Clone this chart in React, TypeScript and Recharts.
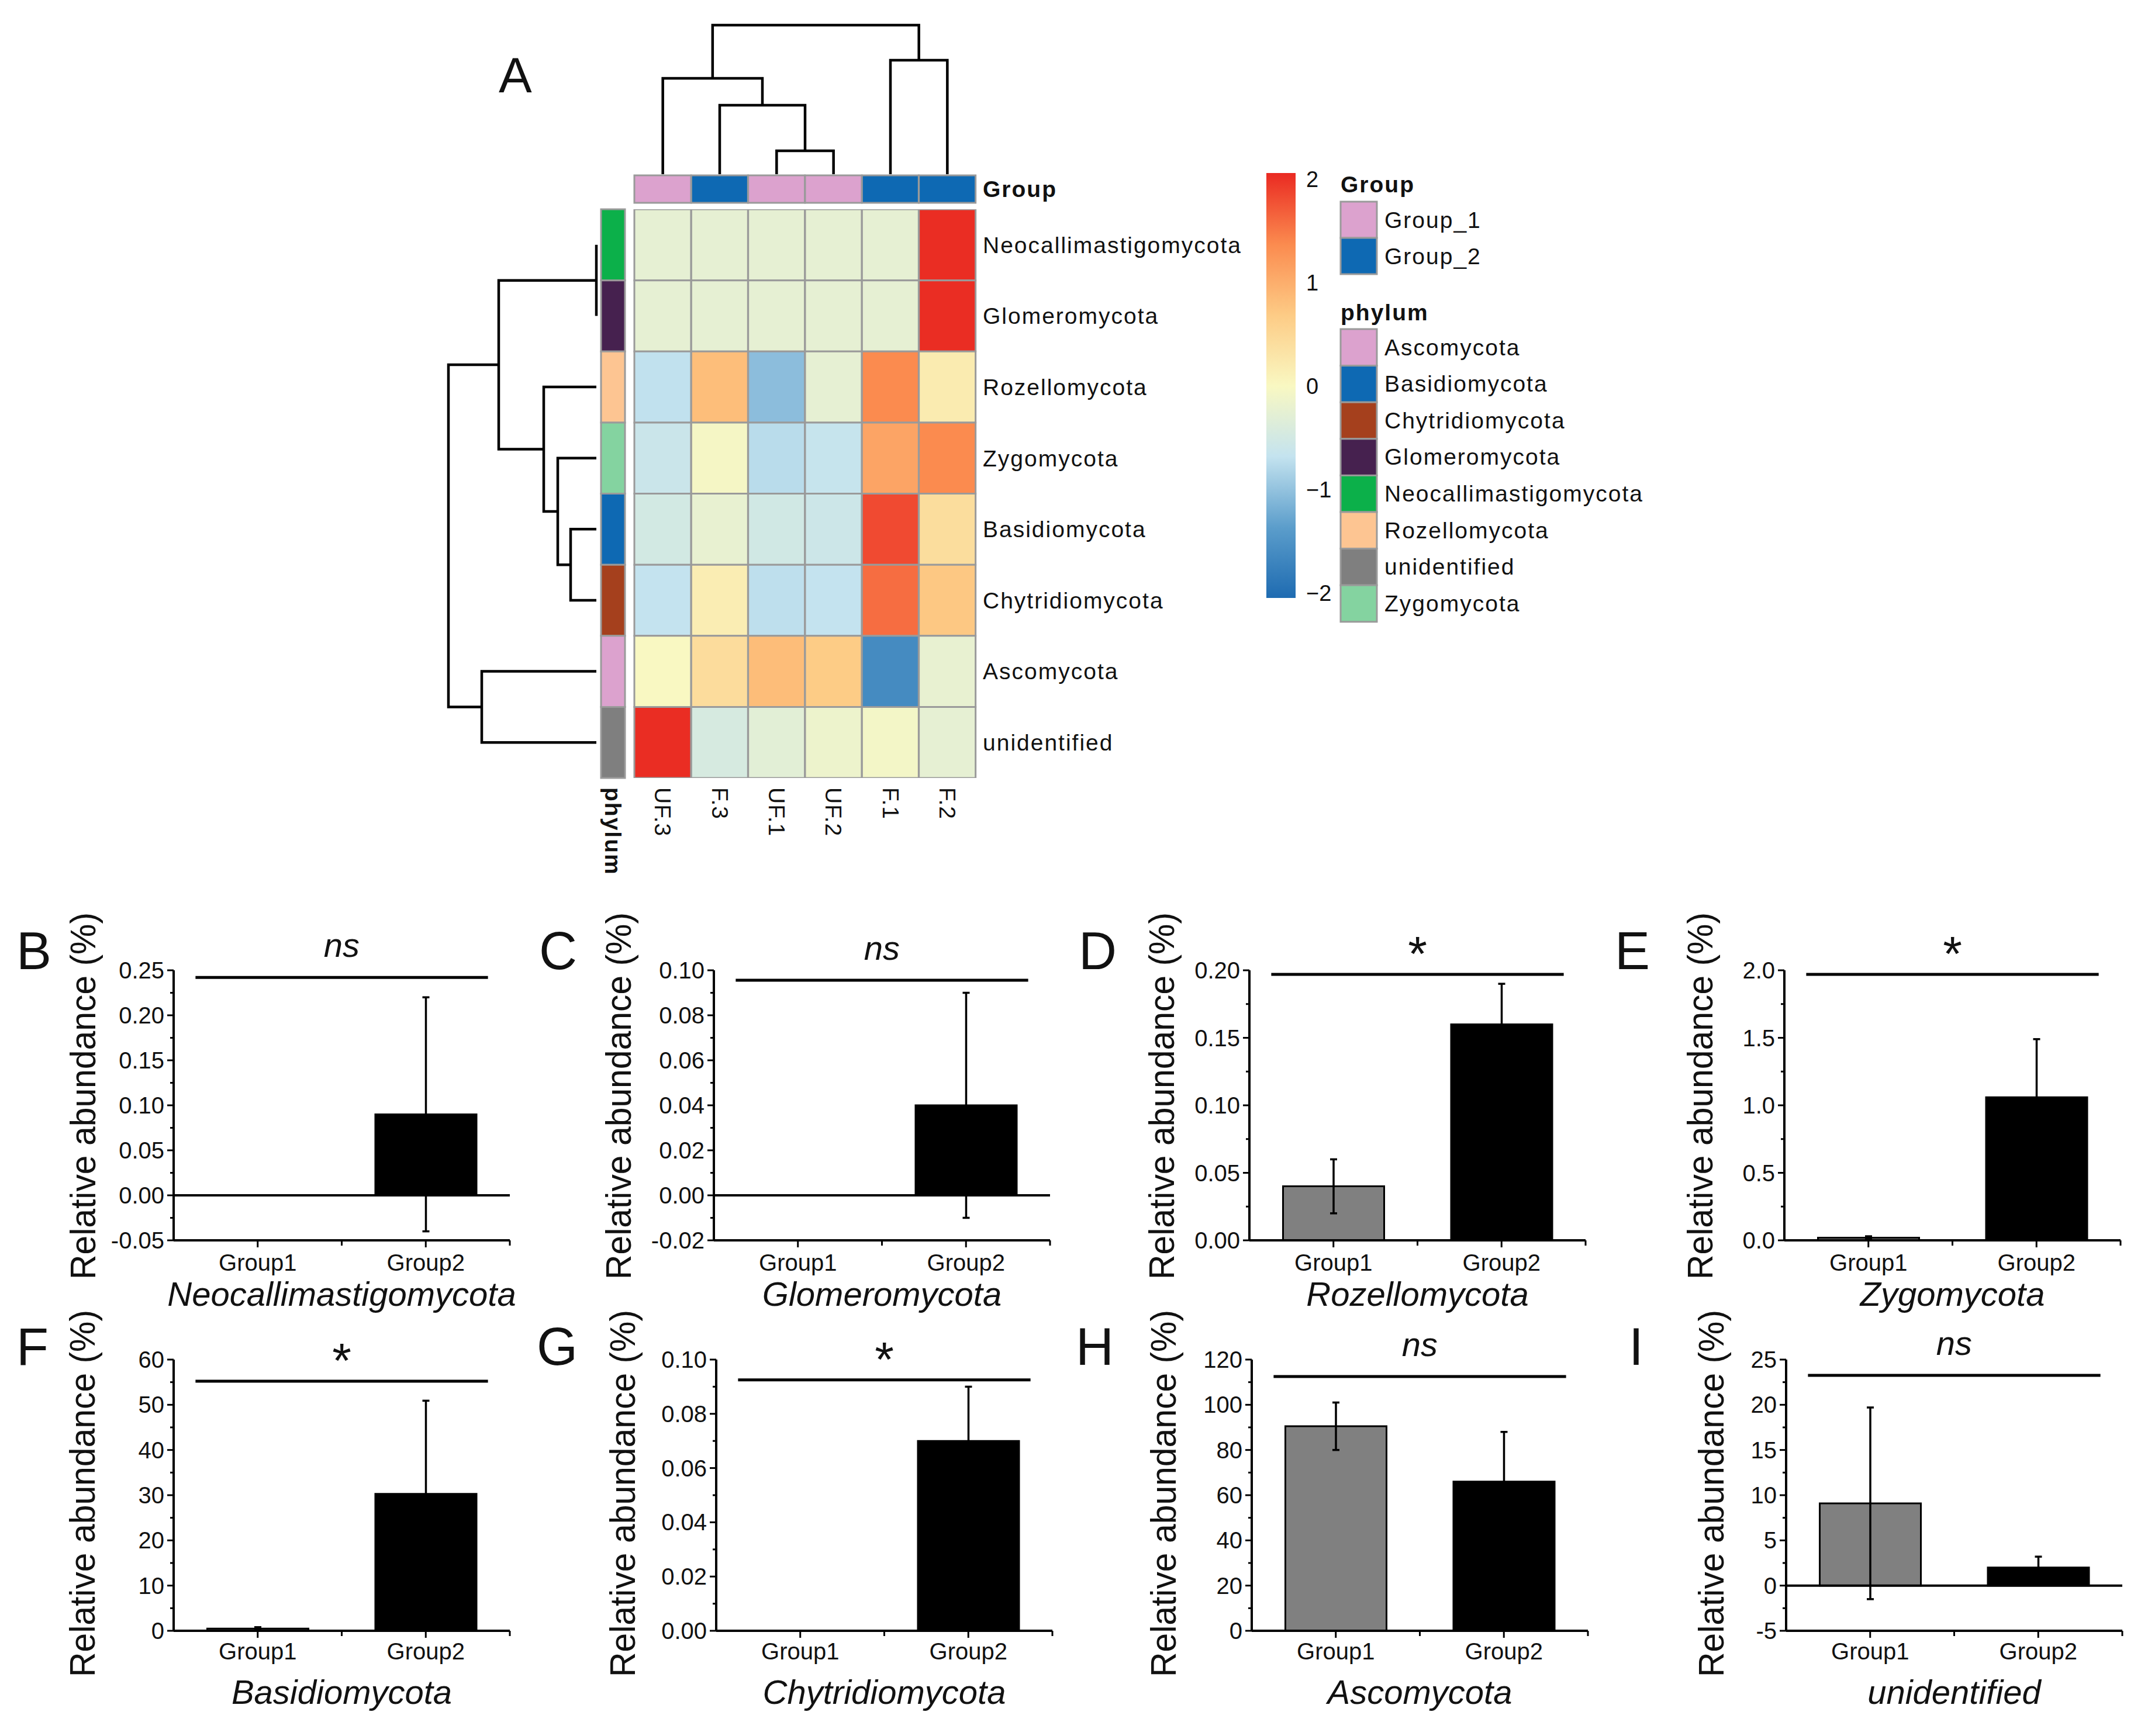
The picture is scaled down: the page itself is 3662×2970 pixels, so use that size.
import React from 'react';
import { BarChart, Bar, Cell, XAxis, YAxis, ErrorBar, ReferenceLine, ScatterChart, Scatter } from 'recharts';

const FONT = '"Liberation Sans", Arial, Helvetica, sans-serif';
const INK = '#000000';
const TXT = '#111111';
const GRID = '#9A9A9A';

// ---------------- Panel A : heatmap data ----------------
const samples = ['UF.3', 'F.3', 'UF.1', 'UF.2', 'F.1', 'F.2'];
const sampleGroups = ['Group_1', 'Group_2', 'Group_1', 'Group_1', 'Group_2', 'Group_2'];
const heatRows = ['Neocallimastigomycota', 'Glomeromycota', 'Rozellomycota', 'Zygomycota', 'Basidiomycota', 'Chytridiomycota', 'Ascomycota', 'unidentified'];
const zNeocallimastigomycota = [-0.25, -0.25, -0.25, -0.25, -0.25, 2.04];
const zGlomeromycota = [-0.25, -0.25, -0.25, -0.25, -0.25, 2.04];
const zRozellomycota = [-0.7, 0.83, -1.05, -0.25, 1.37, 0.2];
const zZygomycota = [-0.6, -0.05, -0.75, -0.65, 1.1, 1.37];
const zBasidiomycota = [-0.5, -0.22, -0.52, -0.58, 1.83, 0.42];
const zChytridiomycota = [-0.68, 0.17, -0.72, -0.68, 1.58, 0.72];
const zAscomycota = [0.0, 0.43, 0.84, 0.68, -1.62, -0.22];
const zUnidentified = [2.04, -0.45, -0.3, -0.15, -0.08, -0.25];
const heatZ = [zNeocallimastigomycota, zGlomeromycota, zRozellomycota, zZygomycota, zBasidiomycota, zChytridiomycota, zAscomycota, zUnidentified];

// hclust-style merges: negative = leaf (1-based display order), positive = earlier merge; third = height
const colMerges = [[-3, -4, 1.6], [-2, 1, 4.72], [-1, 2, 6.56], [-5, -6, 7.8], [3, 4, 10.2]];
const rowMerges = [[-1, -2, 0], [-5, -6, 1.76], [-4, 2, 2.64], [-3, 3, 3.6], [1, 4, 6.68], [-7, -8, 7.84], [5, 6, 10.12]];

const groupLegend = ['Group_1', 'Group_2'];
const phylumLegend = ['Ascomycota', 'Basidiomycota', 'Chytridiomycota', 'Glomeromycota', 'Neocallimastigomycota', 'Rozellomycota', 'unidentified', 'Zygomycota'];
const groupColor: Record<string, string> = { Group_1: '#DCA2CE', Group_2: '#0E69B3' };
const phylumColor: Record<string, string> = {
  Ascomycota: '#DCA2CE', Basidiomycota: '#0E69B3', Chytridiomycota: '#A5401D', Glomeromycota: '#46214F',
  Neocallimastigomycota: '#0CB04A', Rozellomycota: '#FDC592', unidentified: '#7F7F7F', Zygomycota: '#84D3A0',
};
const scaleTicks = [-2, -1, 0, 1, 2];
const scaleMin = -2.05;
const scaleMax = 2.06;
const scaleStops = [-2.05, -1.37, -0.68, 0, 0.68, 1.37, 2.06];
const scaleColors = ['#1E6BB1', '#5B9DCB', '#C4E3EF', '#F9F8C2', '#FDCC86', '#FB8B4F', '#EA2A22'];

// ---------------- Panels B-I : bar data ----------------
const barGroups = ['Group1', 'Group2'];
const barFills = ['#808080', '#000000'];
const meanNeo = [0, 0.09]; const sdNeo = [0, 0.13];
const meanGlo = [0, 0.04]; const sdGlo = [0, 0.05];
const meanRoz = [0.04, 0.16]; const sdRoz = [0.02, 0.03];
const meanZyg = [0.02, 1.06]; const sdZyg = [0.01, 0.43];
const meanBas = [0.5, 30.3]; const sdBas = [0.3, 20.6];
const meanChy = [0, 0.07]; const sdChy = [0, 0.02];
const meanAsc = [90.5, 66]; const sdAsc = [10.5, 22];
const meanUni = [9.1, 2.0]; const sdUni = [10.6, 1.2];
const yTicksNeo = [-0.05, 0, 0.05, 0.1, 0.15, 0.2, 0.25];
const yTicksGlo = [-0.02, 0, 0.02, 0.04, 0.06, 0.08, 0.1];
const yTicksRoz = [0, 0.05, 0.1, 0.15, 0.2];
const yTicksZyg = [0, 0.5, 1, 1.5, 2];
const yTicksBas = [0, 10, 20, 30, 40, 50, 60];
const yTicksChy = [0, 0.02, 0.04, 0.06, 0.08, 0.1];
const yTicksAsc = [0, 20, 40, 60, 80, 100, 120];
const yTicksUni = [-5, 0, 5, 10, 15, 20, 25];
const panelLetters = ['B', 'C', 'D', 'E', 'F', 'G', 'H', 'I'];
const panelNames = ['Neocallimastigomycota', 'Glomeromycota', 'Rozellomycota', 'Zygomycota', 'Basidiomycota', 'Chytridiomycota', 'Ascomycota', 'unidentified'];
const panelMeans = [meanNeo, meanGlo, meanRoz, meanZyg, meanBas, meanChy, meanAsc, meanUni];
const panelSds = [sdNeo, sdGlo, sdRoz, sdZyg, sdBas, sdChy, sdAsc, sdUni];
const panelTicks = [yTicksNeo, yTicksGlo, yTicksRoz, yTicksZyg, yTicksBas, yTicksChy, yTicksAsc, yTicksUni];
const tickDecimals = [2, 2, 2, 1, 0, 2, 0, 0];
const sigMarks = ['ns', 'ns', '*', '*', '*', '*', 'ns', 'ns'];
const sigLevels = [0.242, 0.0956, 0.197, 1.97, 55.2, 0.0925, 112.5, 23.25];

// ---------------- layout (pixels) ----------------
const HM = { left: 1085, top: 358, w: 584, h: 973 };
const AXIS_X = [297, 1221, 2137, 3052, 297, 1225, 2141, 3055];
const TITLE_DX = [-156, -164, -151, -145, -157, -161, -152, -129];
const LETTER_X = [28, 922, 1845, 2762, 28, 918, 1840, 2786];
const ROWS = [
  { top: 1500, height: 760, mt: 160, xh: 138, tickDy: 52, titleDy: 112, yTitleDy: -16, letterY: 1658 },
  { top: 2180, height: 790, mt: 146, xh: 180, tickDy: 49, titleDy: 125, yTitleDy: -3, letterY: 2335 },
];
const PLOT_W = 575;
const YAXIS_W = 297;
const PANEL_W = 900;

// ---------------- helpers ----------------
function hexToRgb(h: string) {
  const n = parseInt(h.slice(1), 16);
  return [(n >> 16) & 255, (n >> 8) & 255, n & 255];
}
function zColor(z: number) {
  const s = scaleStops, c = scaleColors;
  if (z <= s[0]) return c[0];
  if (z >= s[s.length - 1]) return c[c.length - 1];
  let i = 0;
  while (z > s[i + 1]) i++;
  const t = (z - s[i]) / (s[i + 1] - s[i]);
  const a = hexToRgb(c[i]), b = hexToRgb(c[i + 1]);
  const m = a.map((v, k) => Math.round(v + (b[k] - v) * t));
  return `rgb(${m[0]},${m[1]},${m[2]})`;
}
function dendroSegments(merges: number[][]) {
  const pos: number[] = [];
  const hts: number[] = [];
  const get = (k: number) => (k < 0 ? { p: -k - 1, h: 0 } : { p: pos[k - 1], h: hts[k - 1] });
  return merges.map(([a, b, h], i) => {
    const A = get(a), B = get(b);
    pos[i] = (A.p + B.p) / 2;
    hts[i] = h;
    return [{ p: A.p, h: A.h }, { p: A.p, h }, { p: B.p, h }, { p: B.p, h: B.h }];
  });
}
const renderNothing = () => <g />;
const fmtMinus = (v: number) => (v < 0 ? '\u2212' + Math.abs(v) : String(v));

// ---------------- heatmap pieces ----------------
function ColTick(props: any) {
  const { x, y, payload } = props;
  return (
    <text transform={`translate(${x},${y + 8}) rotate(90)`} textAnchor="start" dominantBaseline="central"
      fontSize={39} letterSpacing={1} fill={TXT} fontFamily={FONT}>{payload.value}</text>
  );
}
function PhylumTick(props: any) {
  const { x, y, payload } = props;
  return (
    <text transform={`translate(${x},${y + 8}) rotate(90)`} textAnchor="start" dominantBaseline="central"
      fontSize={39} fontWeight="bold" letterSpacing={2} fill={TXT} fontFamily={FONT}>{payload.value}</text>
  );
}

function Heatmap() {
  const data = samples.map((s) => {
    const row: any = { sample: s };
    heatRows.forEach((_, j) => { row['c' + j] = 1; });
    return row;
  });
  const rowTicks = heatRows.map((_, j) => j + 0.5);
  return (
    <div style={{ position: 'absolute', left: HM.left - 10, top: HM.top - 10 }}>
      <BarChart width={10 + HM.w + 480} height={10 + HM.h + 140} data={data}
        margin={{ top: 10, left: 10, right: 0, bottom: 0 }} barCategoryGap={0} barGap={0}>
        <XAxis dataKey="sample" type="category" height={140} interval={0} tickLine={false} axisLine={false} tick={ColTick} />
        <YAxis type="number" domain={[0, heatRows.length]} reversed orientation="right" width={480}
          ticks={rowTicks} interval={0} tickFormatter={(v: number) => heatRows[Math.floor(v)]}
          tickLine={false} axisLine={false} tickMargin={6} allowDataOverflow
          tick={{ fontSize: 39, fill: TXT, fontFamily: FONT, letterSpacing: 2 }} />
        {heatRows.map((r, j) => (
          <Bar key={r} dataKey={'c' + j} stackId="h" stroke={GRID} strokeWidth={3} isAnimationActive={false}>
            {samples.map((s, i) => <Cell key={s} fill={zColor(heatZ[j][i])} />)}
          </Bar>
        ))}
      </BarChart>
    </div>
  );
}

function GroupStrip() {
  const data = samples.map((s) => ({ sample: s, v: 1 }));
  return (
    <div style={{ position: 'absolute', left: HM.left - 10, top: 290 }}>
      <BarChart width={10 + HM.w + 400} height={67} data={data}
        margin={{ top: 10, left: 10, right: 0, bottom: 10 }} barCategoryGap={0} barGap={0}>
        <XAxis dataKey="sample" hide />
        <YAxis type="number" domain={[0, 1]} orientation="right" width={400} ticks={[0.5]} interval={0}
          tickFormatter={() => 'Group'} tickLine={false} axisLine={false} tickMargin={6}
          tick={{ fontSize: 39, fontWeight: 'bold', fill: TXT, fontFamily: FONT, letterSpacing: 2 }} />
        <Bar dataKey="v" stroke={GRID} strokeWidth={3} isAnimationActive={false}>
          {samples.map((s, i) => <Cell key={s} fill={groupColor[sampleGroups[i]]} />)}
        </Bar>
      </BarChart>
    </div>
  );
}

function PhylumStrip() {
  const row: any = { name: 'phylum' };
  heatRows.forEach((_, j) => { row['c' + j] = 1; });
  return (
    <div style={{ position: 'absolute', left: 1018, top: HM.top - 10 }}>
      <BarChart width={61} height={10 + HM.h + 200} data={[row]}
        margin={{ top: 10, left: 10, right: 10, bottom: 0 }} barCategoryGap={0} barGap={0}>
        <XAxis dataKey="name" type="category" height={200} interval={0} tickLine={false} axisLine={false} tick={PhylumTick} />
        <YAxis type="number" domain={[0, heatRows.length]} reversed hide />
        {heatRows.map((r, j) => (
          <Bar key={r} dataKey={'c' + j} stackId="p" fill={phylumColor[r]} stroke={GRID} strokeWidth={3} isAnimationActive={false} />
        ))}
      </BarChart>
    </div>
  );
}

function TopDendrogram() {
  const segs = dendroSegments(colMerges);
  const top = colMerges[colMerges.length - 1][2];
  return (
    <div style={{ position: 'absolute', left: HM.left - 10, top: 33 }}>
      <ScatterChart width={HM.w + 20} height={255 + 20} margin={{ top: 10, right: 10, bottom: 10, left: 10 }}>
        <XAxis type="number" dataKey="p" domain={[-0.5, samples.length - 0.5]} hide />
        <YAxis type="number" dataKey="h" domain={[0, top]} hide />
        {segs.map((seg, i) => (
          <Scatter key={i} data={seg} line={{ stroke: INK, strokeWidth: 4.5 }} shape={renderNothing} isAnimationActive={false} />
        ))}
      </ScatterChart>
    </div>
  );
}

function RowDendrogram() {
  const segs = dendroSegments(rowMerges);
  const top = rowMerges[rowMerges.length - 1][2];
  return (
    <div style={{ position: 'absolute', left: 757, top: HM.top - 10 }}>
      <ScatterChart width={253 + 20} height={HM.h + 20} margin={{ top: 10, right: 10, bottom: 10, left: 10 }}>
        <XAxis type="number" dataKey="h" domain={[0, top]} reversed hide />
        <YAxis type="number" dataKey="p" domain={[-0.5, heatRows.length - 0.5]} reversed hide />
        {segs.map((seg, i) => (
          <Scatter key={i} data={seg} line={{ stroke: INK, strokeWidth: 4.5 }} shape={renderNothing} isAnimationActive={false} />
        ))}
      </ScatterChart>
    </div>
  );
}

function ColorBar() {
  const stops = scaleStops.map((v, k) => ({ off: (scaleMax - v) / (scaleMax - scaleMin), col: scaleColors[k] })).reverse();
  return (
    <div style={{ position: 'absolute', left: 2156, top: 256 }}>
      <BarChart width={10 + 50 + 120} height={817} data={[{ k: 'scale', r: [scaleMin, scaleMax] }]}
        margin={{ top: 40, left: 10, right: 0, bottom: 50 }} barCategoryGap={0}>
        <defs>
          <linearGradient id="zgrad" x1="0" y1="0" x2="0" y2="1">
            {stops.map((s, i) => <stop key={i} offset={s.off} stopColor={s.col} />)}
          </linearGradient>
        </defs>
        <XAxis dataKey="k" hide />
        <YAxis type="number" domain={[scaleMin, scaleMax]} orientation="right" width={120} ticks={scaleTicks} interval={0}
          tickFormatter={fmtMinus} tickLine={false} axisLine={false} tickMargin={12} allowDataOverflow
          tick={{ fontSize: 38, fill: TXT, fontFamily: FONT }} />
        <Bar dataKey="r" fill="url(#zgrad)" isAnimationActive={false} />
      </BarChart>
    </div>
  );
}

// ---------------- bar panels ----------------
function makeYTick(majors: number[], dec: number) {
  return (props: any) => {
    const { x, y, payload } = props;
    const v = payload.value;
    const isMajor = majors.some((m) => Math.abs(m - v) < 1e-9);
    return (
      <g>
        <line x1={x - (isMajor ? 11 : 6)} x2={x} y1={y} y2={y} stroke={INK} strokeWidth={3} />
        {isMajor && (
          <text x={x - 16} y={y} textAnchor="end" dominantBaseline="central" fontSize={40} fill={TXT} fontFamily={FONT}>
            {v.toFixed(dec)}
          </text>
        )}
      </g>
    );
  };
}
function makeXTick(labelDy: number) {
  return (props: any) => {
    const { x, y, payload } = props;
    const half = PLOT_W / 4;
    return (
      <g>
        <line x1={x} x2={x} y1={y} y2={y + 12} stroke={INK} strokeWidth={3} />
        <line x1={x + half} x2={x + half} y1={y} y2={y + 9} stroke={INK} strokeWidth={3} />
        <text x={x} y={y + labelDy} textAnchor="middle" fontSize={40} fill={TXT} fontFamily={FONT}>{payload.value}</text>
      </g>
    );
  };
}
function makeSig(mark: string) {
  return (props: any) => {
    const { x1, x2, y1 } = props;
    const inset = (x2 - x1) * 0.065;
    const mid = (x1 + x2) / 2;
    return (
      <g>
        <line x1={x1 + inset} x2={x2 - inset} y1={y1} y2={y1} stroke={INK} strokeWidth={5} />
        {mark === 'ns' ? (
          <text x={mid} y={y1 - 35} textAnchor="middle" fontStyle="italic" fontSize={58} fill={TXT} fontFamily={FONT}>ns</text>
        ) : (
          <text x={mid} y={y1 - 6} textAnchor="middle" fontSize={84} fill={TXT} fontFamily={FONT}>*</text>
        )}
      </g>
    );
  };
}

function BarPanel({ i }: { i: number }) {
  const row = ROWS[i < 4 ? 0 : 1];
  const ticks = panelTicks[i];
  const minors = ticks.slice(1).map((t, k) => (t + ticks[k]) / 2);
  const allTicks = [...ticks, ...minors].sort((a, b) => a - b);
  const data = barGroups.map((g, k) => ({ g, mean: panelMeans[i][k], sd: panelSds[i][k] }));
  const dom = [ticks[0], ticks[ticks.length - 1]];
  return (
    <div style={{ position: 'absolute', left: AXIS_X[i] - YAXIS_W, top: row.top }}>
      <BarChart width={PANEL_W} height={row.height} data={data}
        margin={{ top: row.mt, right: PANEL_W - YAXIS_W - PLOT_W, bottom: 0, left: 0 }} barCategoryGap="20%">
        <XAxis dataKey="g" type="category" height={row.xh} interval={0} tickSize={0} tickMargin={0} tickLine={false}
          axisLine={{ stroke: INK, strokeWidth: 4 }} tick={makeXTick(row.tickDy)} />
        <YAxis type="number" domain={dom} ticks={allTicks} interval={0} width={YAXIS_W} tickSize={0} tickMargin={0}
          tickLine={false} axisLine={{ stroke: INK, strokeWidth: 4 }} tick={makeYTick(ticks, tickDecimals[i])} allowDataOverflow />
        {dom[0] < 0 && <ReferenceLine y={0} stroke={INK} strokeWidth={4} />}
        <ReferenceLine y={sigLevels[i]} shape={makeSig(sigMarks[i])} />
        <Bar dataKey="mean" stroke={INK} strokeWidth={3} isAnimationActive={false}>
          {data.map((d, k) => <Cell key={d.g} fill={barFills[k]} />)}
          <ErrorBar dataKey="sd" width={6} stroke={INK} strokeWidth={3.5} direction="y" />
        </Bar>
      </BarChart>
    </div>
  );
}

// ---------------- overlay texts and legend ----------------
function Overlay() {
  return (
    <svg width={3662} height={2970} style={{ position: 'absolute', left: 0, top: 0, pointerEvents: 'none' }} fontFamily={FONT}>
      <text x={853} y={158} fontSize={85} fill={TXT}>A</text>
      {panelLetters.map((L, i) => {
        const row = ROWS[i < 4 ? 0 : 1];
        const pt = row.top + row.mt;
        const pb = row.top + row.height - row.xh;
        return (
          <g key={L}>
            <text x={LETTER_X[i]} y={row.letterY} fontSize={90} fill={TXT}>{L}</text>
            <text transform={`translate(${AXIS_X[i] + TITLE_DX[i]},${(pt + pb) / 2 + row.yTitleDy}) rotate(-90)`}
              textAnchor="middle" dominantBaseline="central" fontSize={62} textLength={628} lengthAdjust="spacingAndGlyphs" fill={TXT}>
              Relative abundance (%)
            </text>
            <text x={AXIS_X[i] + PLOT_W / 2} y={pb + row.titleDy} textAnchor="middle" fontStyle="italic" fontSize={58} fill={TXT}>
              {panelNames[i]}
            </text>
          </g>
        );
      })}
      <text x={2293} y={315} fontSize={39} fontWeight="bold" letterSpacing={2} dominantBaseline="central" fill={TXT}>Group</text>
      {groupLegend.map((g, i) => (
        <g key={g}>
          <rect x={2293} y={345 + i * 62} width={62} height={62} fill={groupColor[g]} stroke={GRID} strokeWidth={3} />
          <text x={2368} y={376 + i * 62} fontSize={39} letterSpacing={2} dominantBaseline="central" fill={TXT}>{g}</text>
        </g>
      ))}
      <text x={2293} y={534} fontSize={39} fontWeight="bold" letterSpacing={2} dominantBaseline="central" fill={TXT}>phylum</text>
      {phylumLegend.map((p, i) => (
        <g key={p}>
          <rect x={2293} y={563 + i * 62.6} width={62} height={62.6} fill={phylumColor[p]} stroke={GRID} strokeWidth={3} />
          <text x={2368} y={594 + i * 62.6} fontSize={39} letterSpacing={2} dominantBaseline="central" fill={TXT}>{p}</text>
        </g>
      ))}
    </svg>
  );
}

export default function App() {
  return (
    <div style={{ position: 'absolute', left: 0, top: 0, width: 3662, height: 2970, background: '#ffffff', overflow: 'hidden', fontFamily: FONT }}>
      <TopDendrogram />
      <RowDendrogram />
      <GroupStrip />
      <PhylumStrip />
      <Heatmap />
      <ColorBar />
      {panelLetters.map((_, i) => <BarPanel key={i} i={i} />)}
      <Overlay />
    </div>
  );
}
